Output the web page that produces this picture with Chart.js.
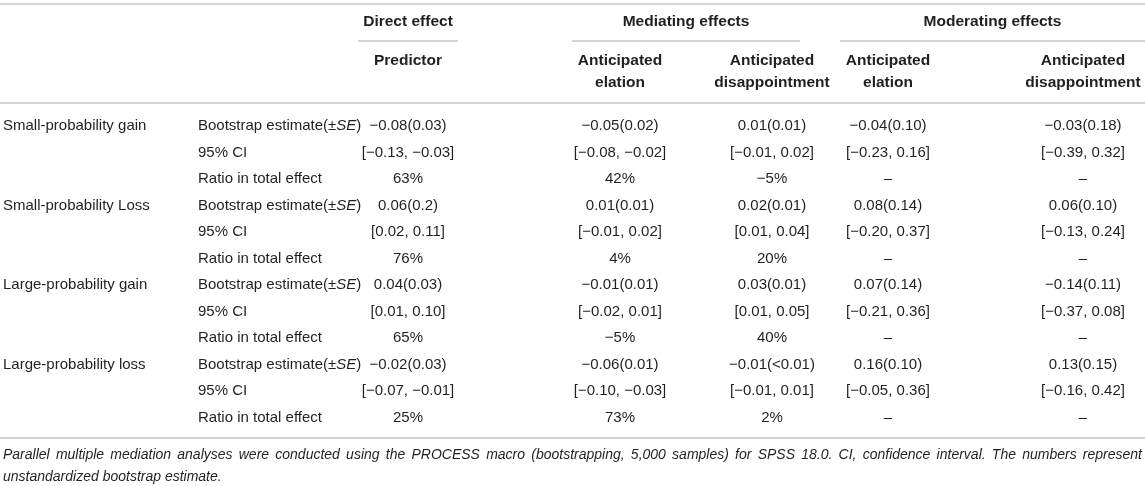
<!DOCTYPE html>
<html>
<head>
<meta charset="utf-8">
<script src="https://cdn.jsdelivr.net/npm/chart.js@4.4.1/dist/chart.umd.min.js"></script>
<style>
    html, body { margin: 0; padding: 0; background: #fff; }
    #wrap { width: 1145px; height: 486px; position: relative; }
</style>
</head>
<body>
<div id="wrap"><canvas id="effects-table" width="1145" height="486"></canvas></div>
<script>
// Table content
const conditions = ['Small-probability gain', 'Small-probability Loss', 'Large-probability gain', 'Large-probability loss'];
const statLabels = ['Bootstrap estimate(\u00B1SE)', '95% CI', 'Ratio in total effect'];
const groupHeaders = ['Direct effect', 'Mediating effects', 'Moderating effects'];
const columnHeaders = [['Predictor'], ['Anticipated', 'elation'], ['Anticipated', 'disappointment'], ['Anticipated', 'elation'], ['Anticipated', 'disappointment']];

const predictor = [
    '\u22120.08(0.03)', '[\u22120.13, \u22120.03]', '63%',
    '0.06(0.2)', '[0.02, 0.11]', '76%',
    '0.04(0.03)', '[0.01, 0.10]', '65%',
    '\u22120.02(0.03)', '[\u22120.07, \u22120.01]', '25%'
];
const mediatingElation = [
    '\u22120.05(0.02)', '[\u22120.08, \u22120.02]', '42%',
    '0.01(0.01)', '[\u22120.01, 0.02]', '4%',
    '\u22120.01(0.01)', '[\u22120.02, 0.01]', '\u22125%',
    '\u22120.06(0.01)', '[\u22120.10, \u22120.03]', '73%'
];
const mediatingDisappointment = [
    '0.01(0.01)', '[\u22120.01, 0.02]', '\u22125%',
    '0.02(0.01)', '[0.01, 0.04]', '20%',
    '0.03(0.01)', '[0.01, 0.05]', '40%',
    '\u22120.01(<0.01)', '[\u22120.01, 0.01]', '2%'
];
const moderatingElation = [
    '\u22120.04(0.10)', '[\u22120.23, 0.16]', '\u2013',
    '0.08(0.14)', '[\u22120.20, 0.37]', '\u2013',
    '0.07(0.14)', '[\u22120.21, 0.36]', '\u2013',
    '0.16(0.10)', '[\u22120.05, 0.36]', '\u2013'
];
const moderatingDisappointment = [
    '\u22120.03(0.18)', '[\u22120.39, 0.32]', '\u2013',
    '0.06(0.10)', '[\u22120.13, 0.24]', '\u2013',
    '\u22120.14(0.11)', '[\u22120.37, 0.08]', '\u2013',
    '0.13(0.15)', '[\u22120.16, 0.42]', '\u2013'
];
const footnoteLines = [
    'Parallel multiple mediation analyses were conducted using the PROCESS macro (bootstrapping, 5,000 samples) for SPSS 18.0. CI, confidence interval. The numbers represent',
    'unstandardized bootstrap estimate.'
];

// Layout (pixels)
const FONT = '"Liberation Sans", Arial, Helvetica, sans-serif';
const TEXT = '#231f20';
const RULE = '#c6c6c6';
const BODY_FONT = '15px ' + FONT;
const HEAD_FONT = 'bold 15.5px ' + FONT;
const colCenters = [408, 620, 772, 888, 1083];
const groupSpans = [[358, 458], [572, 800], [840, 1145]];
const labelX = 3, statX = 198;

const columns = [predictor, mediatingElation, mediatingDisappointment, moderatingElation, moderatingDisappointment];
const rowKeys = conditions.flatMap(c => statLabels.map(s => c + ' | ' + s));

const drawStatLabel = (ctx, text, x, y) => {
    // "SE" is set in italics
    const idx = text.indexOf('SE');
    if (idx < 0) { ctx.fillText(text, x, y); return; }
    const parts = [text.slice(0, idx), 'SE', text.slice(idx + 2)];
    let cx = x;
    parts.forEach((p, i) => {
        ctx.font = (i === 1 ? 'italic ' : '') + BODY_FONT;
        ctx.fillText(p, cx, y);
        cx += ctx.measureText(p).width;
    });
    ctx.font = BODY_FONT;
};

const tablePlugin = {
    id: 'tableText',
    afterDatasetsDraw(chart) {
        const ctx = chart.ctx;
        const yScale = chart.scales.y;
        ctx.save();

        // rules
        ctx.strokeStyle = RULE;
        ctx.lineWidth = 1.6;
        const hline = (x0, x1, y) => { ctx.beginPath(); ctx.moveTo(x0, y); ctx.lineTo(x1, y); ctx.stroke(); };
        hline(0, chart.width, 4);
        groupSpans.forEach(s => hline(s[0], s[1], 41));
        hline(0, chart.width, 103);
        hline(0, chart.width, 438);

        // headers
        ctx.fillStyle = TEXT;
        ctx.textBaseline = 'middle';
        ctx.textAlign = 'center';
        ctx.font = HEAD_FONT;
        groupHeaders.forEach((h, i) => ctx.fillText(h, (groupSpans[i][0] + groupSpans[i][1]) / 2, 22));
        columnHeaders.forEach((lines, i) => {
            lines.forEach((l, j) => ctx.fillText(l, colCenters[i], 61 + j * 22));
        });

        // row labels
        ctx.textAlign = 'left';
        ctx.font = BODY_FONT;
        rowKeys.forEach((k, r) => {
            const y = yScale.getPixelForValue(r);
            if (r % statLabels.length === 0) ctx.fillText(conditions[r / statLabels.length], labelX, y);
            drawStatLabel(ctx, statLabels[r % statLabels.length], statX, y);
        });

        // cells, placed at the dataset points
        ctx.textAlign = 'center';
        chart.data.datasets.forEach((ds, i) => {
            chart.getDatasetMeta(i).data.forEach((pt, r) => {
                ctx.fillText(columns[i][r], pt.x, pt.y);
            });
        });

        // footnote, first line justified
        ctx.font = 'italic 14px ' + FONT;
        ctx.textAlign = 'left';
        const words = footnoteLines[0].split(' ');
        const maxW = chart.width - 6;
        const wordsW = words.reduce((a, w) => a + ctx.measureText(w).width, 0);
        const gap = (maxW - wordsW) / (words.length - 1);
        let x = labelX;
        words.forEach(w => { ctx.fillText(w, x, 455); x += ctx.measureText(w).width + gap; });
        ctx.fillText(footnoteLines[1], labelX, 477);

        ctx.restore();
    }
};

new Chart(document.getElementById('effects-table'), {
    type: 'scatter',
    data: {
        datasets: columns.map((col, i) => ({
            label: columnHeaders[i].join(' '),
            data: col.map((v, r) => ({ x: colCenters[i], y: rowKeys[r] })),
            pointRadius: 0,
            pointHoverRadius: 0
        }))
    },
    options: {
        responsive: false,
        animation: false,
        events: [],
        layout: { padding: { top: 112.75, bottom: 55.25, left: 0, right: 0 } },
        plugins: { legend: { display: false }, tooltip: { enabled: false } },
        scales: {
            x: { type: 'linear', min: 0, max: 1145, display: false },
            y: { type: 'category', labels: rowKeys, offset: true, display: false }
        }
    },
    plugins: [tablePlugin]
});
</script>
</body>
</html>
